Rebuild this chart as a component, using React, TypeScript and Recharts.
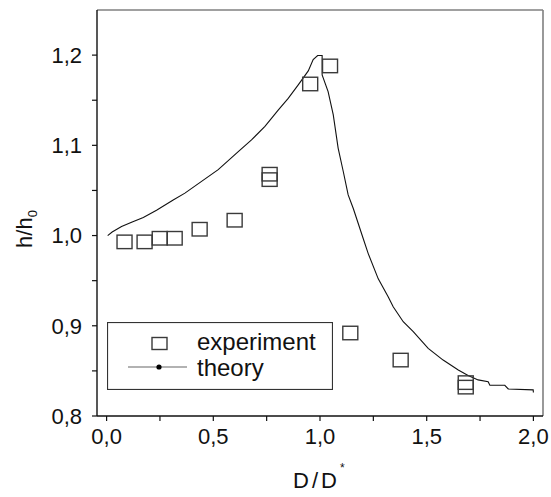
import React from "react";
import {
  ComposedChart,
  Line,
  Scatter,
  XAxis,
  YAxis,
  Legend,
  ReferenceLine,
} from "recharts";

// theory curve h/h0 vs D/D*
const theoryX = [
  0.005, 0.026, 0.07, 0.12, 0.172, 0.234, 0.312, 0.367, 0.445, 0.523, 0.617,
  0.679, 0.742, 0.804, 0.851, 0.898, 0.945, 0.968, 0.989, 1.01, 1.01, 1.038,
  1.062, 1.085, 1.109, 1.132, 1.156, 1.202, 1.226, 1.273, 1.32, 1.343, 1.39,
  1.437, 1.507, 1.577, 1.648, 1.694, 1.741, 1.788, 1.796, 1.866, 1.882, 1.999,
  2.0,
];
const theoryY = [
  1.0, 1.004, 1.01, 1.015, 1.02, 1.028, 1.0395, 1.047, 1.06, 1.073, 1.093,
  1.106, 1.121, 1.139, 1.152, 1.167, 1.1825, 1.195, 1.1995, 1.1995, 1.178,
  1.1595, 1.134, 1.097, 1.071, 1.045, 1.03, 0.997, 0.98, 0.952, 0.932, 0.921,
  0.9045, 0.8935, 0.875, 0.862, 0.851, 0.845, 0.84, 0.838, 0.834, 0.834, 0.83,
  0.829, 0.826,
];

// experiment points
const expX = [
  0.084, 0.178, 0.249, 0.319, 0.436, 0.6, 0.764, 0.764, 0.954, 1.047, 1.142,
  1.378, 1.683, 1.683,
];
const expY = [
  0.993, 0.993, 0.997, 0.997, 1.007, 1.017, 1.062, 1.068, 1.168, 1.188, 0.892,
  0.862, 0.832, 0.837,
];

const xTicks = [0, 0.25, 0.5, 0.75, 1, 1.25, 1.5, 1.75, 2];
const yTicks = [0.8, 0.85, 0.9, 0.95, 1.0, 1.05, 1.1, 1.15, 1.2];

const theory = theoryX.map((x, i) => ({ x, y: theoryY[i] }));
const experiment = expX.map((x, i) => ({ x, y: expY[i] }));

const FONT = '"Liberation Sans", Arial, sans-serif';

const fmtX = (v: number) =>
  Math.abs(v * 2 - Math.round(v * 2)) < 1e-6 ? v.toFixed(1).replace(".", ",") : "";
const fmtY = (v: number) =>
  Math.abs(v * 10 - Math.round(v * 10)) < 1e-6 ? v.toFixed(1).replace(".", ",") : "";

const Square = (props: any) => {
  const { cx, cy } = props;
  if (cx == null || cy == null) return null;
  return (
    <rect
      x={cx - 7.5}
      y={cy - 6.75}
      width={15}
      height={13.5}
      fill="none"
      stroke="#3a3a3a"
      strokeWidth={1.4}
    />
  );
};

const LegendBox = () => (
  <svg width={226} height={68} style={{ display: "block" }}>
    <rect x={0.5} y={0.5} width={225} height={67} fill="#fff" stroke="#333" strokeWidth={1.2} />
    <rect x={45} y={15.5} width={15} height={12} fill="none" stroke="#3a3a3a" strokeWidth={1.4} />
    <line x1={21} x2={80} y1={45} y2={45} stroke="#666" strokeWidth={1.2} />
    <circle cx={52} cy={45} r={2.6} fill="#000" />
    <text x={90} y={28} fontSize={24} fontFamily={FONT} fill="#111">
      experiment
    </text>
    <text x={90} y={54} fontSize={24} fontFamily={FONT} fill="#111">
      theory
    </text>
  </svg>
);

const XLabel = () => (
  <text x={293} y={488} fontSize={22} fontFamily={FONT} fill="#111" letterSpacing={3}>
    D/D
    <tspan fontSize={12} dy={-16} letterSpacing={0}>
      *
    </tspan>
  </text>
);

const YLabel = () => (
  <text
    transform="translate(32,229) rotate(-90)"
    textAnchor="middle"
    fontSize={22}
    fontFamily={FONT}
    fill="#111"
  >
    h/h
    <tspan fontSize={13} dy={5}>
      0
    </tspan>
  </text>
);

export default function App() {
  return (
    <div style={{ position: "absolute", left: 0, top: 0, background: "#fff" }}>
      <ComposedChart
        width={551}
        height={497}
        margin={{ top: 10, right: 8, bottom: 51, left: 37 }}
      >
        <XAxis
          type="number"
          dataKey="x"
          domain={[-0.045, 2.045]}
          ticks={xTicks}
          interval={0}
          tickFormatter={fmtX}
          tickSize={5}
          tickMargin={7}
          height={30}
          allowDataOverflow
          axisLine={{ stroke: "#111", strokeWidth: 1.4 }}
          tickLine={{ stroke: "#111", strokeWidth: 1.2 }}
          tick={{ fontSize: 22, fontFamily: FONT, fill: "#111" }}
          label={<XLabel />}
        />
        <YAxis
          type="number"
          dataKey="y"
          domain={[0.8, 1.25]}
          ticks={yTicks}
          interval={0}
          tickFormatter={fmtY}
          tickSize={5}
          tickMargin={10}
          width={60}
          allowDataOverflow
          axisLine={{ stroke: "#111", strokeWidth: 1.4 }}
          tickLine={{ stroke: "#111", strokeWidth: 1.2 }}
          tick={{ fontSize: 22, fontFamily: FONT, fill: "#111" }}
          label={<YLabel />}
        />
        <ReferenceLine y={1.25} stroke="#808080" strokeWidth={1.6} />
        <ReferenceLine x={2.045} stroke="#808080" strokeWidth={1.6} />
        <Line
          data={theory}
          dataKey="y"
          type="linear"
          stroke="#111"
          strokeWidth={1.1}
          dot={false}
          isAnimationActive={false}
        />
        <Scatter
          data={experiment}
          dataKey="y"
          shape={Square}
          isAnimationActive={false}
        />
        <Legend
          layout="vertical"
          align="center"
          verticalAlign="middle"
          content={() => <LegendBox />}
          wrapperStyle={{ left: 107, top: 322, width: 226, height: 68 }}
        />
      </ComposedChart>
    </div>
  );
}
